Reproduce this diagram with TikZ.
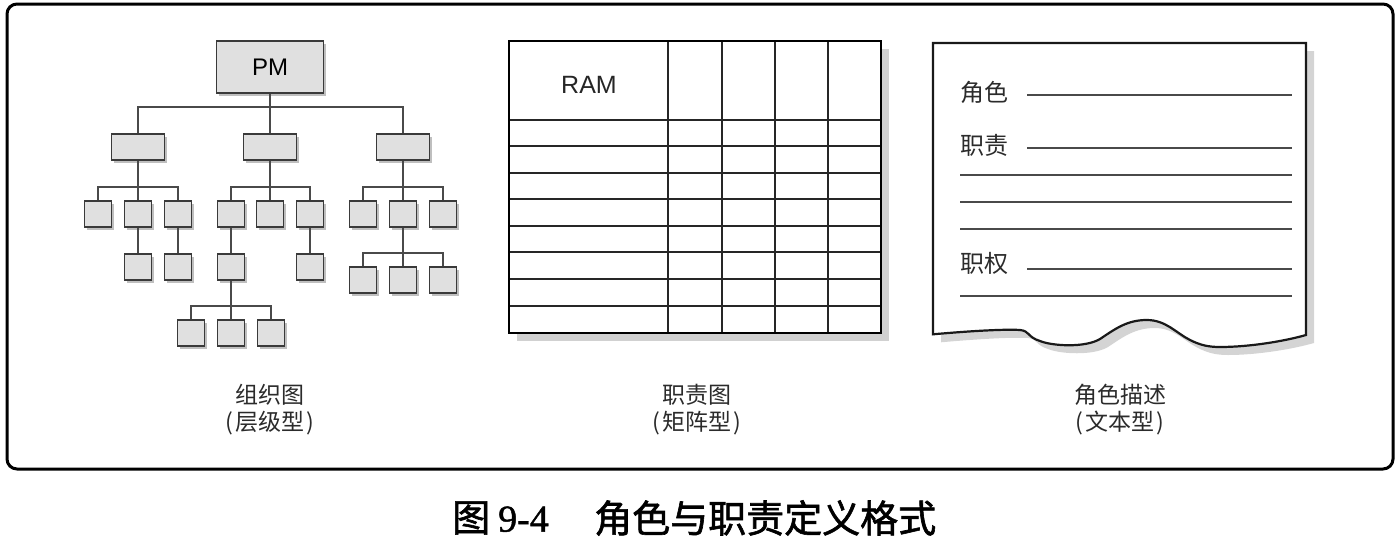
\documentclass[tikz,border=0pt]{standalone}
\usepackage{fontspec}
\setmainfont{Liberation Sans}
\newfontfamily\cjk{Noto Sans CJK SC}
\newfontfamily\cjkcap[FakeBold=1.6]{Noto Sans CJK SC}
\newfontfamily\serifnum[FakeBold=1.2]{Liberation Serif}
\usetikzlibrary{shadows}
\definecolor{boxfill}{HTML}{E0E0E0}
\definecolor{boxline}{HTML}{3A3A3A}
\definecolor{txt}{HTML}{2B2B2B}
\definecolor{linegray}{HTML}{4A4A4A}
\begin{document}
\begin{tikzpicture}[x=1pt,y=-1pt,
  orgbox/.style={draw=boxline, fill=boxfill, line width=1.3pt, inner sep=0pt,
    drop shadow={shadow xshift=2.5pt, shadow yshift=-2.5pt, fill=black, opacity=0.25}},
  smallbox/.style={orgbox, minimum width=27pt, minimum height=26pt},
  midbox/.style={orgbox, minimum width=53pt, minimum height=26pt},
  conn/.style={draw=linegray, line width=1.2pt},
  rule/.style={draw=linegray, line width=1.3pt},
  grid/.style={draw=black!85, line width=1.2pt},
  lbl/.style={text=txt, font=\cjk\fontsize{23}{28}\selectfont, inner sep=0pt},
  doclbl/.style={text=txt, font=\cjk\fontsize{24}{28}\selectfont, inner sep=0pt, anchor=west},
]
\useasboundingbox (0,0) rectangle (1396,544);
\fill[white] (0,0) rectangle (1396,544);
% outer frame
\draw[line width=3pt, rounded corners=10pt] (7,4) rectangle (1393,469);

% ---------------- org chart ----------------
\node[orgbox, minimum width=107pt, minimum height=52pt, font=\fontsize{24}{28}\selectfont] (pm) at (270,67) {PM};
\node[midbox] (ma) at (138,147) {};
\node[midbox] (mb) at (270,147) {};
\node[midbox] (mc) at (403,147) {};
\foreach \n/\x in {a1/98,a2/138,a3/178,b1/231,b2/270,b3/310,c1/363,c2/403,c3/443}
  \node[smallbox] (\n) at (\x,214) {};
\node[smallbox] (a2x) at (138,267) {};
\node[smallbox] (a3x) at (178,267) {};
\node[smallbox] (b1x) at (231,267) {};
\node[smallbox] (b3x) at (310,267) {};
\node[smallbox] (cx1) at (363,280) {};
\node[smallbox] (cx2) at (403,280) {};
\node[smallbox] (cx3) at (443,280) {};
\node[smallbox] (d1) at (191,333) {};
\node[smallbox] (d2) at (231,333) {};
\node[smallbox] (d3) at (271,333) {};

\coordinate (j0) at (270,107);
\draw[conn] (pm.south) -- (j0);
\draw[conn] (ma.north) |- (j0) -| (mc.north);
\draw[conn] (j0) -- (mb.north);

\coordinate (ja) at (138,187);
\draw[conn] (ma.south) -- (ja);
\draw[conn] (a1.north) |- (ja) -| (a3.north);
\draw[conn] (ja) -- (a2.north);
\coordinate (jb) at (270,187);
\draw[conn] (mb.south) -- (jb);
\draw[conn] (b1.north) |- (jb) -| (b3.north);
\draw[conn] (jb) -- (b2.north);
\coordinate (jc) at (403,187);
\draw[conn] (mc.south) -- (jc);
\draw[conn] (c1.north) |- (jc) -| (c3.north);
\draw[conn] (jc) -- (c2.north);

\draw[conn] (a2.south) -- (a2x.north);
\draw[conn] (a3.south) -- (a3x.north);
\draw[conn] (b1.south) -- (b1x.north);
\draw[conn] (b3.south) -- (b3x.north);

\coordinate (jcx) at (403,253);
\draw[conn] (c2.south) -- (jcx);
\draw[conn] (cx1.north) |- (jcx) -| (cx3.north);
\draw[conn] (jcx) -- (cx2.north);

\coordinate (jd) at (231,306);
\draw[conn] (b1x.south) -- (jd);
\draw[conn] (d1.north) |- (jd) -| (d3.north);
\draw[conn] (jd) -- (d2.north);

\node[lbl] (l1a) at (270,395) {组织图};
\node[lbl] (l1b) at (270,423) {(\hspace{2pt}层级型\hspace{2pt})};

% ---------------- matrix ----------------
\fill[black, opacity=0.18] (517,49) rectangle (889,341);
\fill[white] (509,41) rectangle (881,333);
\foreach \x in {668,722,775,828}
  \draw[grid] (\x,41) -- (\x,333);
\foreach \y in {120,146,173,199,226,252,279,306}
  \draw[grid] (509,\y) -- (881,\y);
\draw[line width=2.2pt, black] (509,41) rectangle (881,333);
\node[font=\fontsize{25}{30}\selectfont, text=black!85] (ram) at (589,85) {RAM};

\node[lbl] (l2a) at (697,395) {职责图};
\node[lbl] (l2b) at (697,423) {(\hspace{2pt}矩阵型\hspace{2pt})};

% ---------------- document ----------------
\def\paper{(933,43) -- (933,334.3)
  .. controls (970,331) and (1005,329) .. (1020,330)
  .. controls (1030,331) and (1027,337) .. (1040,341)
  .. controls (1052,346) and (1085,348) .. (1100,339)
  .. controls (1115,329) and (1127,320) .. (1146.7,320)
  .. controls (1166,320) and (1176,333) .. (1190,340)
  .. controls (1200,345) and (1208,347) .. (1220,347)
  .. controls (1250,347) and (1285,341) .. (1306,335)
  -- (1306,43) -- cycle}
\fill[black, opacity=0.17, shift={(8,8)}] \paper;
\filldraw[fill=white, draw=black!90, line width=2.2pt] \paper;

\node[doclbl] (role) at (960,92) {角色};
\node[doclbl] (duty) at (960,145) {职责};
\node[doclbl] (auth) at (960,263) {职权};
\draw[rule] (1027,95) -- (1292,95);
\draw[rule] (1027,148) -- (1292,148);
\draw[rule] (960,175) -- (1292,175);
\draw[rule] (960,202) -- (1292,202);
\draw[rule] (960,229) -- (1292,229);
\draw[rule] (1027,269) -- (1292,269);
\draw[rule] (960,296) -- (1292,296);

\node[lbl] (l3a) at (1120,395) {角色描述};
\node[lbl] (l3b) at (1120,423) {(\hspace{2pt}文本型\hspace{2pt})};

% ---------------- caption ----------------
\node[anchor=west, inner sep=0pt, font=\fontsize{38}{44}\selectfont, text=black] (fig) at (452,518) {{\cjkcap 图}\hspace{8pt}{\serifnum 9-4}};
\node[anchor=west, inner sep=0pt, font=\cjkcap\fontsize{38}{44}\selectfont, text=black] (title) at (594,518) {角色与职责定义格式};
\end{tikzpicture}
\end{document}
